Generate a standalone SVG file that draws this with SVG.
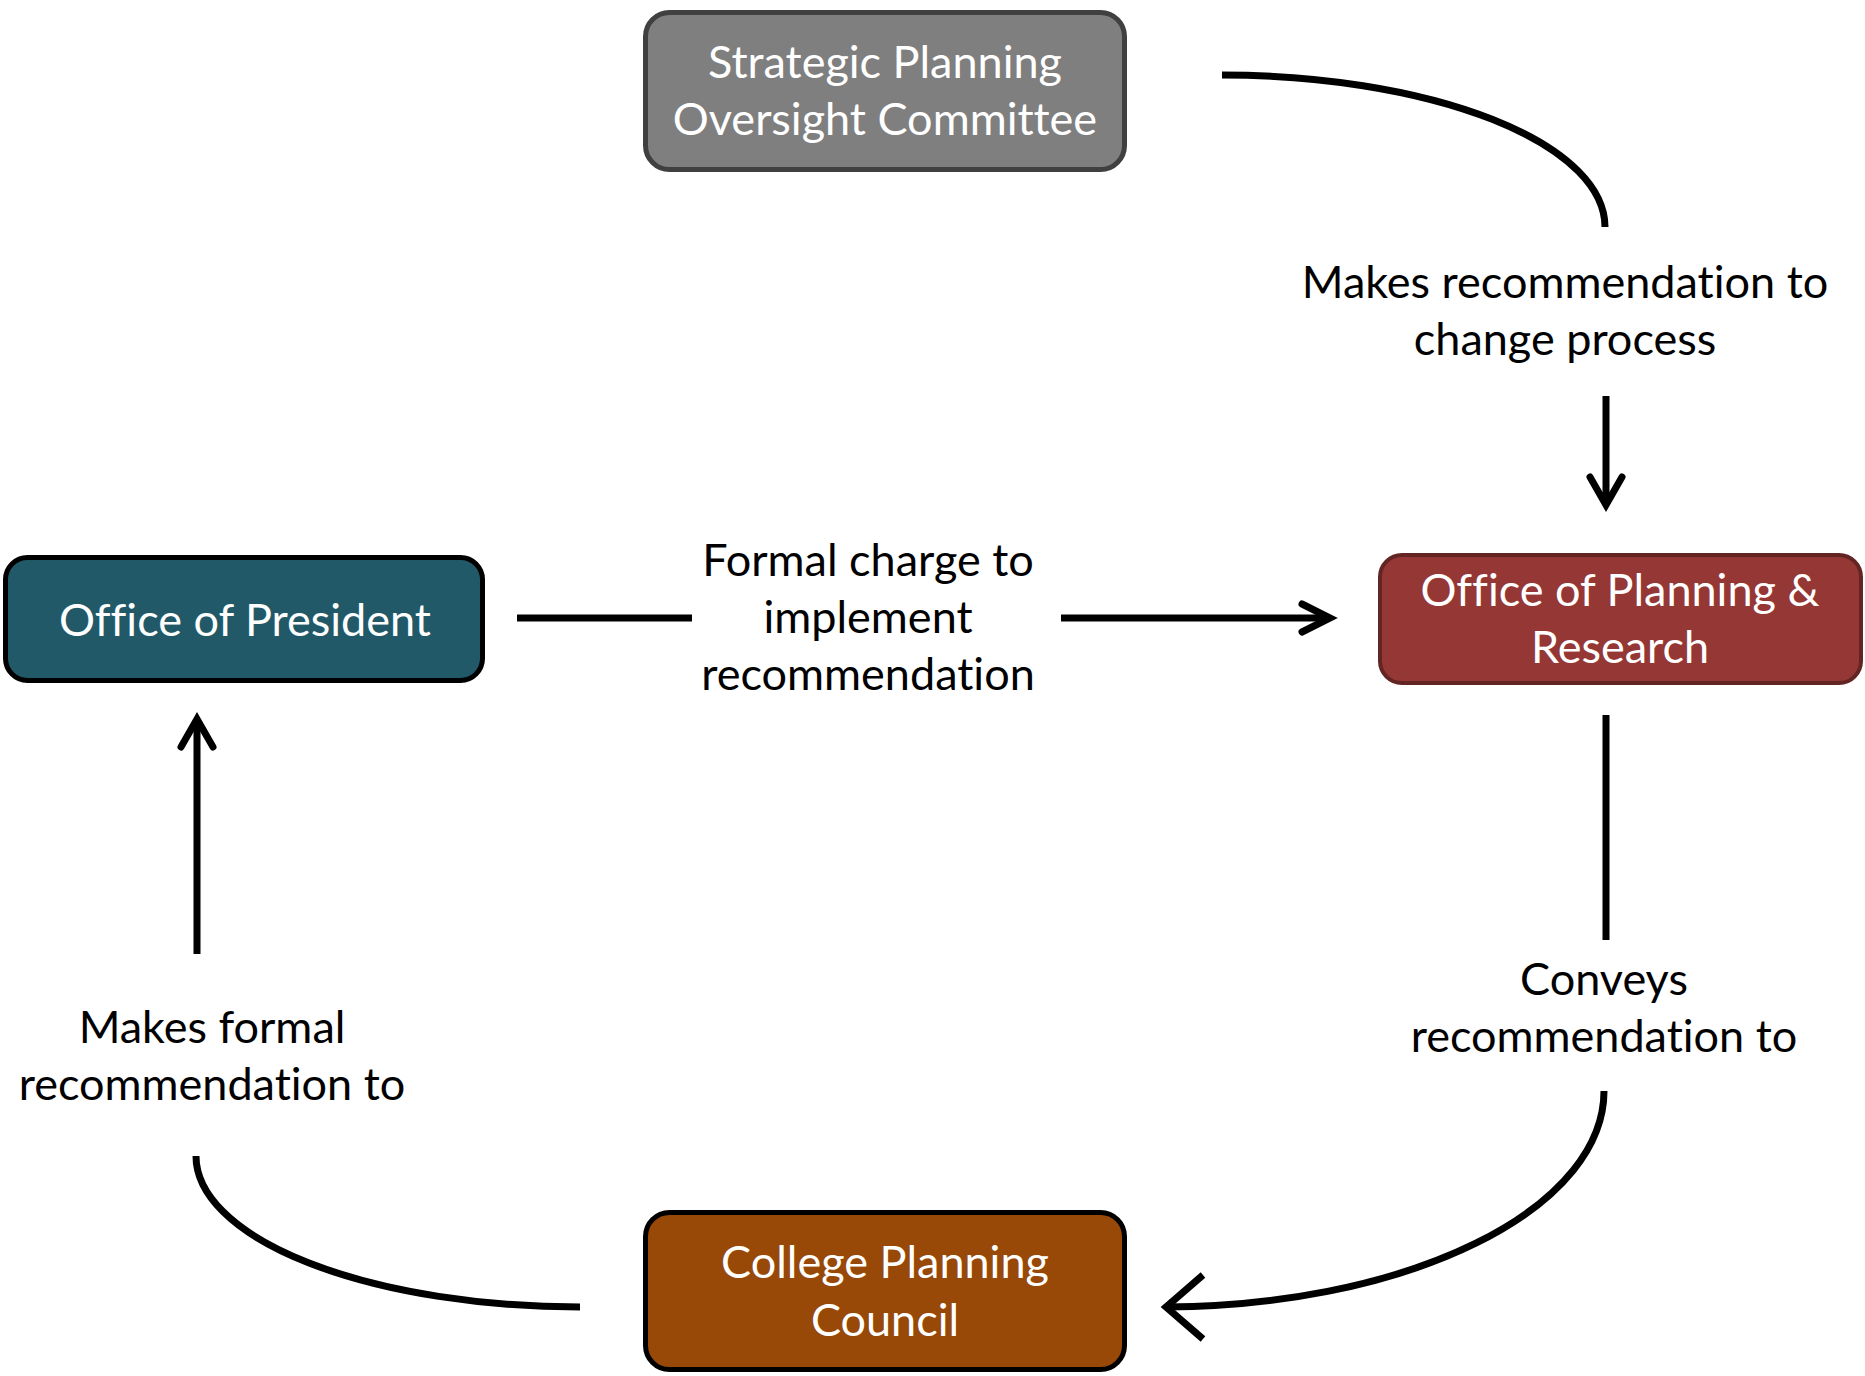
<svg xmlns="http://www.w3.org/2000/svg" width="1865" height="1376" viewBox="0 0 1865 1376">
  <style>
    text { font-variant-ligatures: none; font-feature-settings: "liga" 0, "clig" 0, "dlig" 0; }
    .box-text { font-family: Lato, "Liberation Sans", sans-serif; font-size: 45px; fill: #ffffff; text-anchor: middle; }
    .label { font-family: Lato, "Liberation Sans", sans-serif; font-size: 45px; fill: #000000; text-anchor: middle; }
    .line { fill: none; stroke: #000000; stroke-width: 7; }
    .head { fill: none; stroke: #000000; stroke-width: 7; stroke-linecap: round; stroke-linejoin: miter; }
    .head-sq { fill: none; stroke: #000000; stroke-width: 7; stroke-linecap: butt; stroke-linejoin: miter; }
  </style>
  <rect width="1865" height="1376" fill="#ffffff"/>

  <!-- connectors -->
  <g id="connectors">
    <!-- committee -> planning office -->
    <path class="line" d="M1222 75 A383 152 0 0 1 1605 227"/>
    <path class="line" d="M1606 396 L1606 503"/>
    <polyline class="head" points="1590,477 1606,505 1622,477"/>
    <!-- president -> planning office -->
    <path class="line" d="M517 618 L692 618"/>
    <path class="line" d="M1061 618 L1328 618"/>
    <polyline class="head" points="1302,604 1330,618 1302,632"/>
    <!-- planning office -> council -->
    <path class="line" d="M1606 715 L1606 940"/>
    <path class="line" d="M1604 1091 A441 216 0 0 1 1166 1307"/>
    <polyline class="head-sq" points="1203,1275 1166,1307 1203,1339"/>
    <!-- council -> president -->
    <path class="line" d="M580 1307 A384 151 0 0 1 196 1156"/>
    <path class="line" d="M197 954 L197 720"/>
    <polyline class="head" points="181,747 197,719 213,747"/>
  </g>

  <!-- edge labels -->
  <g id="labels">
    <text class="label" x="1565" y="298">Makes recommendation to</text>
    <text class="label" x="1565" y="355">change process</text>
    <text class="label" x="868" y="576">Formal charge to</text>
    <text class="label" x="868" y="633">implement</text>
    <text class="label" x="868" y="690">recommendation</text>
    <text class="label" x="1604" y="995">Conveys</text>
    <text class="label" x="1604" y="1052">recommendation to</text>
    <text class="label" x="212" y="1043">Makes formal</text>
    <text class="label" x="212" y="1100">recommendation to</text>
  </g>

  <g id="strategic-planning-oversight-committee">
    <rect x="645.5" y="12.5" width="479" height="157" rx="24" fill="#7f7f7f" stroke="#404040" stroke-width="5"/>
    <text class="box-text" x="885" y="78">Strategic Planning</text>
    <text class="box-text" x="885" y="135">Oversight Committee</text>
  </g>

  <g id="office-of-president">
    <rect x="5.5" y="557.5" width="477" height="123" rx="22" fill="#215968" stroke="#000000" stroke-width="5"/>
    <text class="box-text" x="245" y="636">Office of President</text>
  </g>

  <g id="office-of-planning-research">
    <rect x="1380" y="555" width="481" height="128" rx="22" fill="#953735" stroke="#632523" stroke-width="4"/>
    <text class="box-text" x="1620" y="606">Office of Planning &amp;</text>
    <text class="box-text" x="1620" y="663">Research</text>
  </g>

  <g id="college-planning-council">
    <rect x="645.5" y="1212.5" width="479" height="157" rx="24" fill="#984807" stroke="#000000" stroke-width="5"/>
    <text class="box-text" x="885" y="1278">College Planning</text>
    <text class="box-text" x="885" y="1336">Council</text>
  </g>
</svg>
